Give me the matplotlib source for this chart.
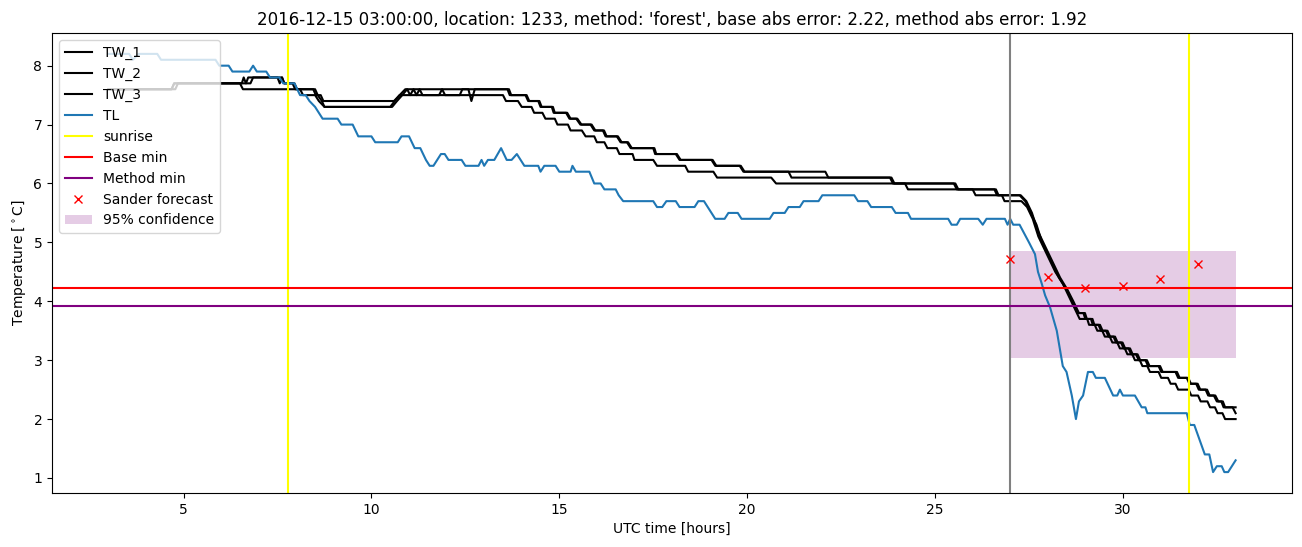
import matplotlib.pyplot as plt

title = "2016-12-15 03:00:00, location: 1233, method: 'forest', base abs error: 2.22, method abs error: 1.92"

# TW_1 (hours, degC), breakpoints
tw1_t = [3.0, 4.68, 4.75, 6.55, 6.6, 6.66, 6.72, 7.62, 7.68, 7.9, 7.97, 8.45, 8.52, 8.65, 8.72,
         10.6, 10.75, 10.9, 12.58, 12.66, 12.75, 13.62,
         13.68, 14.1, 14.17, 14.44, 14.5, 14.8, 14.85, 15.18, 15.27, 15.45, 15.56, 15.83,
         15.93, 16.16, 16.23, 16.53, 16.63, 16.8, 16.9, 17.5, 17.55, 18.1, 18.2, 19.05,
         19.15, 19.8, 19.9, 22.08, 22.16, 23.8, 23.88, 25.5, 25.58, 26.58, 26.65, 27.25,
         27.4, 27.55, 27.7, 27.85, 28.0, 28.15, 28.3, 28.5, 28.65, 28.8, 28.95, 29.0, 29.15,
         29.2, 29.35, 29.42, 29.55, 29.62, 29.75, 29.82, 29.95, 30.02, 30.15, 30.22, 30.35,
         30.42, 30.6, 30.67, 30.95, 31.02, 31.4, 31.47, 31.7, 31.77, 31.95, 32.02, 32.2,
         32.27, 32.42, 32.5, 32.62, 32.68, 33.0]
tw1_v = [7.6, 7.6, 7.7, 7.7, 7.8, 7.7, 7.8, 7.8, 7.7, 7.7, 7.6, 7.6, 7.5, 7.5, 7.4,
         7.4, 7.5, 7.6, 7.6, 7.4, 7.6, 7.6,
         7.5, 7.5, 7.4, 7.4, 7.3, 7.3, 7.2, 7.2, 7.1, 7.1, 7.0, 7.0,
         6.9, 6.9, 6.8, 6.8, 6.7, 6.7, 6.6, 6.6, 6.5, 6.5, 6.4, 6.4,
         6.3, 6.3, 6.2, 6.2, 6.1, 6.1, 6.0, 6.0, 5.9, 5.9, 5.8, 5.8,
         5.7, 5.5, 5.3, 5.0, 4.8, 4.6, 4.4, 4.2, 4.0, 3.8, 3.8, 3.7, 3.7,
         3.6, 3.6, 3.5, 3.5, 3.4, 3.4, 3.3, 3.3, 3.2, 3.2, 3.1, 3.1,
         3.0, 3.0, 2.9, 2.9, 2.8, 2.8, 2.7, 2.7, 2.6, 2.6, 2.5, 2.5,
         2.4, 2.4, 2.3, 2.3, 2.2, 2.2]

# TW_2
tw2_t = [3.0, 4.78, 4.85, 6.78, 6.85, 7.5, 7.56, 7.62, 7.68, 7.95, 8.02, 8.5, 8.57, 8.68, 8.75,
         10.55, 10.68, 10.82, 10.95, 11.03, 11.12, 11.2, 11.28, 11.36, 11.8, 11.88, 11.96,
         12.35, 12.42, 13.66,
         13.72, 14.13, 14.2, 14.47, 14.53, 14.83, 14.88, 15.21, 15.3, 15.48, 15.59, 15.86,
         15.96, 16.19, 16.26, 16.56, 16.66, 16.83, 16.93, 17.53, 17.58, 18.13, 18.23, 19.08,
         19.18, 19.83, 19.93, 21.1, 21.18, 23.84, 23.92, 25.54, 25.62, 26.62, 26.69, 27.28,
         27.43, 27.58, 27.73, 27.88, 28.03, 28.18, 28.33, 28.52, 28.68, 28.83, 28.99, 29.04, 29.19,
         29.24, 29.39, 29.46, 29.59, 29.66, 29.79, 29.86, 29.99, 30.06, 30.19, 30.26, 30.39,
         30.46, 30.64, 30.71, 30.99, 31.06, 31.44, 31.51, 31.74, 31.81, 31.99, 32.06, 32.24,
         32.31, 32.46, 32.54, 32.66, 32.72, 32.92, 33.0]
tw2_v = [7.6, 7.6, 7.7, 7.7, 7.8, 7.8, 7.7, 7.8, 7.7, 7.7, 7.6, 7.6, 7.5, 7.4, 7.3,
         7.3, 7.4, 7.5, 7.6, 7.5, 7.6, 7.5, 7.6, 7.5, 7.5, 7.6, 7.5,
         7.5, 7.6, 7.6,
         7.5, 7.5, 7.4, 7.4, 7.3, 7.3, 7.2, 7.2, 7.1, 7.1, 7.0, 7.0,
         6.9, 6.9, 6.8, 6.8, 6.7, 6.7, 6.6, 6.6, 6.5, 6.5, 6.4, 6.4,
         6.3, 6.3, 6.2, 6.2, 6.1, 6.1, 6.0, 6.0, 5.9, 5.9, 5.8, 5.8,
         5.7, 5.5, 5.2, 5.0, 4.8, 4.6, 4.4, 4.2, 4.0, 3.8, 3.8, 3.7, 3.7,
         3.6, 3.6, 3.5, 3.5, 3.4, 3.4, 3.3, 3.3, 3.2, 3.2, 3.1, 3.1,
         3.0, 3.0, 2.9, 2.9, 2.8, 2.8, 2.7, 2.7, 2.6, 2.6, 2.5, 2.5,
         2.4, 2.4, 2.3, 2.3, 2.2, 2.2, 2.1]

# TW_3
tw3_t = [3.0, 4.68, 4.75, 6.5, 6.58, 8.1, 8.18, 8.5, 8.6, 8.75, 10.5, 10.62, 10.75, 13.5,
         13.58, 13.9, 14.0, 14.26, 14.33, 14.55, 14.63, 14.88, 14.95, 15.23, 15.3, 15.6,
         15.7, 15.93, 16.0, 16.2, 16.28, 16.53, 16.6, 16.95, 17.0, 17.5, 17.6, 18.35,
         18.43, 19.1, 19.2, 20.64, 20.77, 24.2, 24.28, 26.0, 26.08, 26.78, 26.85, 27.3,
         27.45, 27.6, 27.75, 27.9, 28.05, 28.2, 28.4, 28.55, 28.7, 28.85, 29.05, 29.1, 29.25,
         29.32, 29.45, 29.52, 29.65, 29.72, 29.85, 29.92, 30.05, 30.12, 30.25, 30.32, 30.45,
         30.52, 30.65, 30.72, 30.95, 31.02, 31.2, 31.27, 31.4, 31.47, 31.75, 31.82, 32.0,
         32.07, 32.25, 32.32, 32.45, 32.52, 32.65, 32.72, 33.0]
tw3_v = [7.6, 7.6, 7.7, 7.7, 7.6, 7.6, 7.5, 7.5, 7.4, 7.3, 7.3, 7.4, 7.5, 7.5,
         7.4, 7.4, 7.3, 7.3, 7.2, 7.2, 7.1, 7.1, 7.0, 7.0, 6.9, 6.9,
         6.8, 6.8, 6.7, 6.7, 6.6, 6.6, 6.5, 6.5, 6.4, 6.4, 6.3, 6.3,
         6.2, 6.2, 6.1, 6.1, 6.0, 6.0, 5.9, 5.9, 5.8, 5.8, 5.7, 5.7,
         5.6, 5.4, 5.1, 4.9, 4.7, 4.5, 4.3, 4.1, 3.9, 3.7, 3.7, 3.6, 3.6,
         3.5, 3.5, 3.4, 3.4, 3.3, 3.3, 3.2, 3.2, 3.1, 3.1, 3.0, 3.0,
         2.9, 2.9, 2.8, 2.8, 2.7, 2.7, 2.6, 2.6, 2.5, 2.5, 2.4, 2.4,
         2.3, 2.3, 2.2, 2.2, 2.1, 2.1, 2.0, 2.0]

# TL
tl_t = [3.0, 3.55, 3.65, 3.8, 4.3, 4.4, 5.85, 5.95, 6.2, 6.3, 6.75, 6.85, 6.95, 7.2, 7.3,
        7.55, 7.65, 7.95, 8.1, 8.25, 8.35, 8.5, 8.7, 9.1, 9.2, 9.5, 9.65, 10.0, 10.1, 10.7,
        10.8, 11.0, 11.15, 11.3, 11.45, 11.55, 11.65, 11.75, 11.85, 11.95, 12.05, 12.4, 12.5,
        12.85, 12.93, 13.0, 13.1, 13.27, 13.45, 13.6, 13.73, 13.87, 14.07, 14.44, 14.5, 14.6,
        14.9, 15.0, 15.3, 15.35, 15.44, 15.8, 15.93, 16.1, 16.2, 16.5, 16.58, 16.7, 17.5,
        17.6, 17.74, 17.85, 18.1, 18.2, 18.6, 18.7, 18.85, 18.95, 19.15, 19.4, 19.5, 19.75,
        19.85, 20.6, 20.7, 21.0, 21.1, 21.4, 21.5, 21.9, 22.0, 22.85, 22.95, 23.2, 23.3,
        23.85, 23.95, 24.28, 24.36, 25.35, 25.44, 25.58, 25.67, 26.15, 26.27, 26.37, 26.86,
        26.93, 27.0, 27.08, 27.25, 27.5, 27.66, 27.74, 27.84, 27.93, 28.06, 28.24, 28.4,
        28.5, 28.64, 28.75, 28.83, 28.94, 29.07, 29.2, 29.28, 29.52, 29.74, 29.85, 29.92,
        30.0, 30.32, 30.5, 30.6, 30.65, 31.7, 31.78, 31.9, 32.18, 32.3, 32.4, 32.5, 32.63,
        32.7, 32.8, 33.0]
tl_v = [8.2, 8.2, 8.1, 8.2, 8.2, 8.1, 8.1, 8.0, 8.0, 7.9, 7.9, 8.0, 7.9, 7.9, 7.8,
        7.8, 7.7, 7.7, 7.5, 7.5, 7.4, 7.3, 7.1, 7.1, 7.0, 7.0, 6.8, 6.8, 6.7, 6.7,
        6.8, 6.8, 6.6, 6.6, 6.4, 6.3, 6.3, 6.4, 6.5, 6.5, 6.4, 6.4, 6.3,
        6.3, 6.4, 6.3, 6.4, 6.4, 6.6, 6.4, 6.4, 6.5, 6.3, 6.3, 6.2, 6.3,
        6.3, 6.2, 6.2, 6.3, 6.2, 6.2, 6.0, 6.0, 5.9, 5.9, 5.8, 5.7, 5.7,
        5.6, 5.6, 5.7, 5.7, 5.6, 5.6, 5.7, 5.7, 5.6, 5.4, 5.4, 5.5, 5.5,
        5.4, 5.4, 5.5, 5.5, 5.6, 5.6, 5.7, 5.7, 5.8, 5.8, 5.7, 5.7, 5.6,
        5.6, 5.5, 5.5, 5.4, 5.4, 5.3, 5.3, 5.4, 5.4, 5.3, 5.4, 5.4,
        5.3, 5.4, 5.3, 5.3, 5.0, 4.8, 4.5, 4.3, 4.1, 3.9, 3.5, 2.9,
        2.8, 2.4, 2.0, 2.3, 2.4, 2.8, 2.8, 2.7, 2.7, 2.4, 2.4, 2.5,
        2.4, 2.4, 2.2, 2.2, 2.1, 2.1, 1.9, 1.9, 1.4, 1.4, 1.1, 1.2, 1.2,
        1.1, 1.1, 1.3]

sunrise = [7.77, 31.75]
forecast_start = 27.0
base_min = 4.22
method_min = 3.92
sander_t = [27, 28, 29, 30, 31, 32]
sander_v = [4.71, 4.42, 4.22, 4.26, 4.38, 4.63]
conf_t = [27, 33]
conf_low = 3.03
conf_high = 4.85

fig, ax = plt.subplots(figsize=(13.02, 5.47), dpi=100)
fig.subplots_adjust(left=0.040, right=0.9923, top=0.9397, bottom=0.0987)

ax.plot(tw1_t, tw1_v, color='black', label='TW_1')
ax.plot(tw2_t, tw2_v, color='black', label='TW_2')
ax.plot(tw3_t, tw3_v, color='black', label='TW_3')
ax.plot(tl_t, tl_v, label='TL')
for i, s in enumerate(sunrise):
    ax.axvline(s, color='yellow', label='sunrise' if i == 0 else None)
ax.axvline(forecast_start, color='grey')
ax.axhline(base_min, color='red', label='Base min')
ax.axhline(method_min, color='purple', label='Method min')
ax.plot(sander_t, sander_v, 'x', color='red', label='Sander forecast')
ax.fill_between(conf_t, conf_low, conf_high, color='purple', alpha=0.2, linewidth=0,
                label='95% confidence')

ax.set_title(title)
ax.set_xlabel('UTC time [hours]')
ax.set_ylabel(r'Temperature [$^\circ$C]')
ax.legend(loc='upper left')

fig.savefig('out.png', dpi=100)
